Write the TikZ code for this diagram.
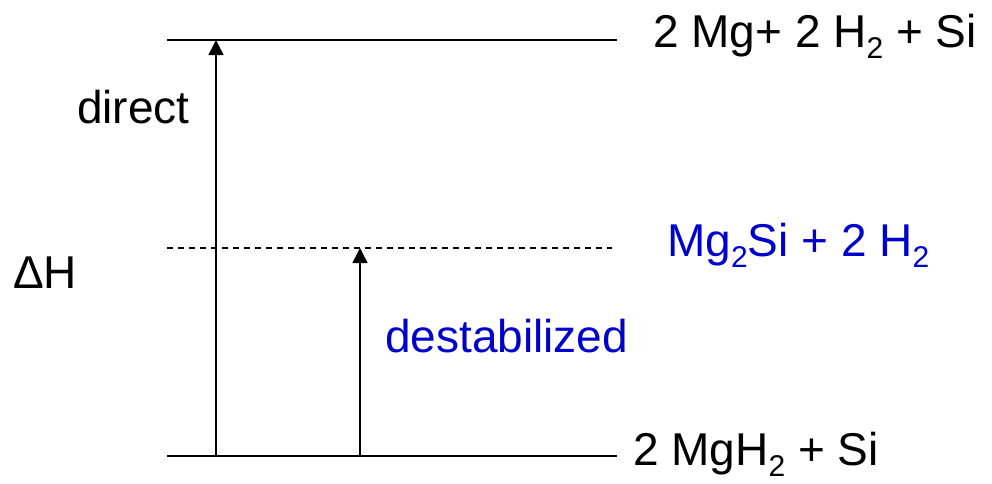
\documentclass[tikz,border=0pt]{standalone}
\usepackage{fontspec}
\setmainfont{Liberation Sans}
\usetikzlibrary{arrows.meta}
\definecolor{chemblue}{RGB}{0,0,204}
\newcommand{\subtwo}[1]{\raisebox{-0.25em}{\fontsize{30}{30}\selectfont #1}}
\tikzset{
  level/.style={line width=1.5pt},
  dlevel/.style={line width=1.2pt, dash pattern=on 6pt off 5pt},
  uparrow/.style={line width=1.5pt, -{Triangle[length=15pt,width=15pt]}},
  lbl/.style={anchor=base west, inner sep=0pt, font=\fontsize{46}{52}\selectfont},
  bluelbl/.style={lbl, text=chemblue}
}
\begin{document}
\begin{tikzpicture}[x=1pt,y=-1pt]
\useasboundingbox (0,0) rectangle (992,483);
\coordinate (t1) at (167,40);
\coordinate (t2) at (617,40);
\coordinate (m1) at (167,248);
\coordinate (m2) at (612,248);
\coordinate (b1) at (167,456);
\coordinate (b2) at (617,456);
\coordinate (a1) at (216,456);
\coordinate (a2) at (360,456);
\draw[level] (t1) -- (t2);
\draw[dlevel] (m1) -- (m2);
\draw[level] (b1) -- (b2);
\draw[uparrow] (a1) -- (a1 |- t1);
\draw[uparrow] (a2) -- (a2 |- m1);
\node[lbl] (top) at (653,47) {2 Mg+ 2 H\subtwo{2} + Si};
\node[bluelbl] (mid) at (667,256) {Mg\subtwo{2}Si + 2 H\subtwo{2}};
\node[lbl] (bot) at (633,465) {2 MgH\subtwo{2} + Si};
\node[lbl] (dh) at (13,288) {ΔH};
\node[lbl] (direct) at (77,123) {direct};
\node[bluelbl] (destab) at (385,352) {destabilized};
\end{tikzpicture}
\end{document}
